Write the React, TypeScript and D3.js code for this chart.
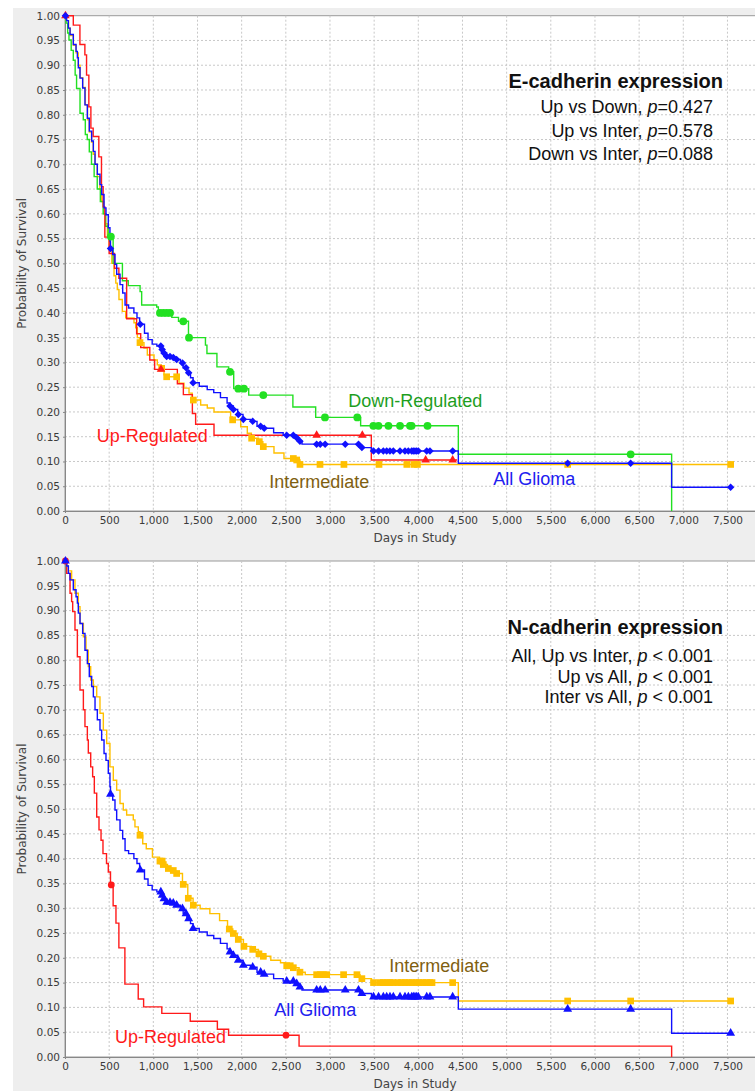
import { useEffect, useRef } from 'react';
import * as d3 from 'd3';

const W = 755;
const H = 1091;

// axis ticks
const dayTicks = [0, 500, 1000, 1500, 2000, 2500, 3000, 3500, 4000, 4500, 5000, 5500, 6000, 6500, 7000, 7500];
const survTicks = [0, 0.05, 0.1, 0.15, 0.2, 0.25, 0.3, 0.35, 0.4, 0.45, 0.5, 0.55, 0.6, 0.65, 0.7, 0.75, 0.8, 0.85, 0.9, 0.95, 1.0];

// All Glioma (shared by both panels) - [day, survival after drop]
const gliomaSteps = [
  [0, 1], [19, 0.99], [38, 0.975], [57, 0.962], [94, 0.942], [125, 0.928], [140, 0.915], [151, 0.895],
  [170, 0.874], [200, 0.854], [226, 0.82], [253, 0.793], [275, 0.767], [302, 0.747], [321, 0.726],
  [340, 0.7], [366, 0.68], [396, 0.659], [415, 0.639], [442, 0.612], [464, 0.598], [490, 0.572],
  [509, 0.545], [515, 0.53], [540, 0.518], [566, 0.498], [585, 0.478], [623, 0.457], [653, 0.44],
  [680, 0.416], [720, 0.41], [780, 0.4], [815, 0.39], [845, 0.377], [900, 0.359], [940, 0.346],
  [987, 0.337], [1040, 0.333], [1095, 0.326], [1120, 0.319], [1150, 0.312], [1190, 0.31], [1250, 0.306],
  [1307, 0.299], [1338, 0.289], [1380, 0.279], [1421, 0.269], [1450, 0.259], [1520, 0.252], [1610, 0.245],
  [1684, 0.239], [1760, 0.229], [1835, 0.218], [1868, 0.212], [1906, 0.205], [1955, 0.195], [2015, 0.185],
  [2099, 0.181], [2174, 0.171], [2240, 0.167], [2362, 0.158], [2470, 0.153], [2600, 0.148], [2645, 0.141],
  [2683, 0.135], [3340, 0.128], [3470, 0.121], [4453, 0.0965], [6868, 0.048],
];
const gliomaEnd = 7536;
const gliomaCensor = [
  5, 515, 852, 1085, 1100, 1120, 1151, 1189, 1226, 1264, 1330, 1370, 1400, 1450, 1868, 1906, 1962, 2019,
  2125, 2215, 2255, 2510, 2585, 2623, 2660, 2849, 2890, 2945, 3173, 3323, 3361, 3493, 3550, 3604, 3642,
  3679, 3717, 3793, 3849, 3887, 3925, 3943, 3962, 3981, 4000, 4095, 4132, 4389, 5691, 6404, 7536,
];

// E-cadherin: Up-Regulated
const eUpSteps = [
  [0, 1], [94, 0.981], [169, 0.942], [225, 0.921], [244, 0.88], [270, 0.816], [293, 0.773], [319, 0.756],
  [383, 0.715], [413, 0.655], [432, 0.614], [451, 0.553], [500, 0.52], [560, 0.49], [610, 0.47],
  [698, 0.388], [811, 0.358], [857, 0.33], [960, 0.305], [1015, 0.286], [1272, 0.257], [1340, 0.235],
  [1442, 0.197], [1479, 0.175], [1687, 0.153], [3468, 0.103],
];
const eUpEnd = 4440;
const eUpCensor = [5, 1087, 2849, 3366, 4083, 4389];

// E-cadherin: Down-Regulated
const eDownSteps = [
  [0, 1], [12, 0.985], [30, 0.965], [45, 0.951], [70, 0.93], [94, 0.91], [115, 0.88], [131, 0.853],
  [170, 0.803], [207, 0.79], [230, 0.76], [252, 0.75], [275, 0.725], [300, 0.7], [330, 0.675],
  [365, 0.65], [400, 0.625], [432, 0.6], [460, 0.575], [489, 0.554], [545, 0.5], [650, 0.465],
  [716, 0.455], [850, 0.443], [868, 0.416], [1038, 0.412], [1057, 0.4], [1209, 0.391], [1285, 0.383],
  [1398, 0.35], [1590, 0.335], [1607, 0.318], [1720, 0.291], [1853, 0.281], [1910, 0.247], [2080, 0.234],
  [2580, 0.21], [2838, 0.189], [3347, 0.172], [4453, 0.1145], [6868, 0],
];
const eDownEnd = 6868;
const eDownCensor = [519, 1075, 1113, 1151, 1189, 1339, 1404, 1868, 1962, 2026, 2245, 2943, 3309, 3491, 3549, 3662, 3793, 3906, 3924, 4104, 6404];

// E-cadherin: Intermediate
const eInterSteps = [
  [0, 1], [15, 0.99], [40, 0.975], [60, 0.96], [95, 0.94], [125, 0.925], [150, 0.9], [170, 0.875],
  [200, 0.855], [230, 0.82], [255, 0.79], [275, 0.765], [300, 0.745], [320, 0.72], [340, 0.7],
  [365, 0.675], [395, 0.65], [415, 0.625], [440, 0.6], [460, 0.58], [480, 0.555], [500, 0.53],
  [530, 0.5], [555, 0.475], [575, 0.46], [592, 0.447], [611, 0.427], [649, 0.403], [687, 0.39],
  [781, 0.38], [800, 0.37], [819, 0.35], [845, 0.34], [894, 0.329], [932, 0.315], [1008, 0.305],
  [1045, 0.295], [1090, 0.288], [1121, 0.275], [1140, 0.271], [1291, 0.258], [1347, 0.248], [1404, 0.238],
  [1440, 0.224], [1536, 0.214], [1611, 0.208], [1687, 0.2], [1875, 0.19], [1895, 0.184], [1989, 0.17],
  [2064, 0.157], [2110, 0.147], [2190, 0.14], [2240, 0.13], [2366, 0.117], [2479, 0.106], [2620, 0.103],
  [2660, 0.094],
];
const eInterEnd = 7536;
const eInterCensor = [849, 1094, 1151, 1264, 1453, 1898, 2113, 2200, 2245, 2585, 2623, 2660, 2887, 3158, 3555, 3870, 3950, 3990, 5691, 7536];

// N-cadherin: Up-Regulated
const nUpSteps = [
  [0, 1], [19, 0.975], [57, 0.935], [75, 0.918], [87, 0.898], [113, 0.861], [140, 0.807], [170, 0.74],
  [208, 0.7], [226, 0.666], [253, 0.639], [264, 0.613], [291, 0.585], [313, 0.565], [332, 0.532],
  [359, 0.484], [385, 0.458], [408, 0.437], [430, 0.41], [470, 0.39], [490, 0.373], [515, 0.347],
  [545, 0.305], [577, 0.27], [610, 0.22], [678, 0.147], [829, 0.117], [890, 0.101], [1096, 0.088],
  [1418, 0.072], [1725, 0.056], [1852, 0.044], [2650, 0.022], [6868, 0],
];
const nUpEnd = 6868;
const nUpCensor = [5, 524, 2502];

// N-cadherin: Intermediate
const nInterSteps = [
  [0, 1], [19, 0.99], [38, 0.98], [75, 0.962], [113, 0.935], [151, 0.908], [170, 0.874], [208, 0.847],
  [238, 0.82], [264, 0.787], [291, 0.76], [321, 0.747], [359, 0.726], [396, 0.693], [434, 0.659],
  [472, 0.632], [509, 0.585], [547, 0.558], [585, 0.538], [623, 0.511], [660, 0.498], [698, 0.488],
  [773, 0.478], [792, 0.464], [830, 0.454], [849, 0.447], [880, 0.43], [920, 0.42], [990, 0.403],
  [1070, 0.395], [1110, 0.388], [1160, 0.38], [1215, 0.376], [1250, 0.37], [1330, 0.348], [1390, 0.32],
  [1450, 0.306], [1530, 0.299], [1640, 0.289], [1750, 0.275], [1840, 0.258], [1900, 0.249], [1950, 0.237],
  [2020, 0.223], [2110, 0.217], [2190, 0.208], [2240, 0.203], [2330, 0.195], [2440, 0.19], [2500, 0.184],
  [2580, 0.18], [2650, 0.171], [2720, 0.166], [3340, 0.158], [3470, 0.15], [4453, 0.1129],
];
const nInterEnd = 7536;
const nInterCensor = [
  849, 1075, 1100, 1113, 1170, 1226, 1264, 1339, 1396, 1453, 1860, 1906, 1962, 2026, 2125, 2196, 2245,
  2510, 2550, 2585, 2660, 2849, 2890, 2925, 2962, 3154, 3305, 3361, 3493, 3566, 3604, 3642, 3679, 3713,
  3770, 3810, 3850, 3890, 3930, 3970, 4010, 4050, 4090, 4130, 4155, 4389, 5691, 6404, 7536,
];

const RED = '#ff1a1a';
const GREEN = '#22e022';
const BLUE = '#1010ff';
const GOLD = '#ffc000';

function valueAt(steps, day) {
  let v = steps[0][1];
  for (const s of steps) {
    if (s[0] <= day) v = s[1];
  }
  return v;
}

function drawPanel(root, p) {
  const g = root.append('g');
  const x = d3.scaleLinear().domain([0, 7925]).range([65, 765]);
  const y = d3.scaleLinear().domain([0, 1]).range([p.bottom, p.top]);

  // panel background
  g.append('rect')
    .attr('x', 13).attr('y', p.bgTop)
    .attr('width', W - 13).attr('height', p.bgBottom - p.bgTop)
    .attr('fill', '#eeeeee');

  g.append('rect')
    .attr('x', 65).attr('y', p.top)
    .attr('width', 700).attr('height', p.bottom - p.top)
    .attr('fill', 'white')
    .attr('stroke', '#999').attr('stroke-width', 1);

  // grid
  g.append('g').selectAll('line')
    .data(dayTicks.filter(d => d > 0))
    .enter().append('line')
    .attr('x1', d => x(d)).attr('x2', d => x(d))
    .attr('y1', p.top).attr('y2', p.bottom)
    .attr('stroke', '#c8c8c8').attr('stroke-dasharray', '2,2');

  g.append('g').selectAll('line')
    .data(survTicks.filter(d => d > 0 && d < 1))
    .enter().append('line')
    .attr('x1', 65).attr('x2', 765)
    .attr('y1', d => y(d)).attr('y2', d => y(d))
    .attr('stroke', '#c8c8c8').attr('stroke-dasharray', '2,2');

  // axes
  const yAxis = g.append('g')
    .attr('transform', 'translate(65,0)')
    .call(d3.axisLeft(y).tickValues(survTicks).tickFormat(d3.format('.2f')).tickSize(2).tickSizeOuter(0).tickPadding(3));
  const xAxis = g.append('g')
    .attr('transform', `translate(0,${p.bottom})`)
    .call(d3.axisBottom(x).tickValues(dayTicks).tickFormat(d3.format(',')).tickSize(2).tickSizeOuter(0).tickPadding(4));
  [yAxis, xAxis].forEach(a => {
    a.select('.domain').attr('stroke', '#888');
    a.selectAll('.tick line').attr('stroke', '#888');
    a.selectAll('text')
      .attr('fill', '#3a3a3a')
      .style('font-family', '"DejaVu Sans", sans-serif')
      .style('font-size', '10.5px');
  });

  g.append('text')
    .attr('x', 415).attr('y', p.bottom + 31)
    .attr('text-anchor', 'middle')
    .attr('fill', '#444')
    .style('font-family', '"DejaVu Sans", sans-serif')
    .style('font-size', '12px')
    .text('Days in Study');

  g.append('text')
    .attr('transform', `translate(22,${(p.top + p.bottom) / 2}) rotate(-90)`)
    .attr('text-anchor', 'middle')
    .attr('dominant-baseline', 'central')
    .attr('fill', '#444')
    .style('font-family', '"DejaVu Sans", sans-serif')
    .style('font-size', '12px')
    .text('Probability of Survival');

  // curves
  const line = d3.line()
    .x(d => x(d[0]))
    .y(d => y(d[1]))
    .curve(d3.curveStepAfter);

  p.series.forEach(s => {
    const pts = [...s.steps, [s.end, s.steps[s.steps.length - 1][1]]];
    g.append('path')
      .datum(pts)
      .attr('fill', 'none')
      .attr('stroke', s.color)
      .attr('stroke-width', 1.4)
      .attr('d', line);
  });

  p.series.forEach(s => {
    const sym = d3.symbol().type(s.symbol).size(s.size);
    g.append('g').selectAll('path')
      .data(s.censor)
      .enter().append('path')
      .attr('transform', d => `translate(${x(d)},${y(valueAt(s.steps, d))})`)
      .attr('d', sym)
      .attr('fill', s.color);
  });

  // annotations
  const ann = g.append('g')
    .attr('text-anchor', 'end')
    .style('font-family', '"Liberation Sans", Arial, sans-serif')
    .attr('fill', '#111');
  ann.append('text')
    .attr('x', 723).attr('y', p.titleY)
    .style('font-size', '20px').style('font-weight', 'bold')
    .text(p.title);
  p.stats.forEach((st, i) => {
    const t = ann.append('text')
      .attr('x', 713).attr('y', p.statY[i])
      .style('font-size', '18px');
    t.append('tspan').text(st[0]);
    t.append('tspan').style('font-style', 'italic').text('p');
    t.append('tspan').text(st[1]);
  });

  p.labels.forEach(l => {
    g.append('text')
      .attr('x', l.x).attr('y', l.y)
      .attr('fill', l.color)
      .style('font-family', '"Liberation Sans", Arial, sans-serif')
      .style('font-size', '18px')
      .text(l.text);
  });
}

export default function App() {
  const svgRef = useRef(null);

  useEffect(() => {
    const svg = d3.select(svgRef.current);
    svg.selectAll('*').remove();

    drawPanel(svg, {
      bgTop: 8, bgBottom: 550, top: 15.7, bottom: 511,
      title: 'E-cadherin expression', titleY: 88,
      stats: [['Up vs Down, ', '=0.427'], ['Up vs Inter, ', '=0.578'], ['Down vs Inter, ', '=0.088']],
      statY: [113, 136.5, 159.5],
      series: [
        { steps: eInterSteps, end: eInterEnd, censor: eInterCensor, color: GOLD, symbol: d3.symbolSquare, size: 45 },
        { steps: eDownSteps, end: eDownEnd, censor: eDownCensor, color: GREEN, symbol: d3.symbolCircle, size: 48 },
        { steps: eUpSteps, end: eUpEnd, censor: eUpCensor, color: RED, symbol: d3.symbolTriangle, size: 32 },
        { steps: gliomaSteps, end: gliomaEnd, censor: gliomaCensor, color: BLUE, symbol: d3.symbolDiamond2, size: 36 },
      ],
      labels: [
        { text: 'Up-Regulated', x: 96.7, y: 441.5, color: '#ff1a1a' },
        { text: 'Intermediate', x: 269.3, y: 488, color: '#7f5f10' },
        { text: 'Down-Regulated', x: 348.3, y: 406.7, color: '#1e9e1e' },
        { text: 'All Glioma', x: 493.3, y: 485, color: '#2020f0' },
      ],
    });

    drawPanel(svg, {
      bgTop: 550, bgBottom: H, top: 561, bottom: 1057,
      title: 'N-cadherin expression', titleY: 634,
      stats: [['All, Up vs Inter, ', ' < 0.001'], ['Up vs All, ', ' < 0.001'], ['Inter vs All, ', ' < 0.001']],
      statY: [661.7, 682.7, 703.3],
      series: [
        { steps: nUpSteps, end: nUpEnd, censor: nUpCensor, color: RED, symbol: d3.symbolCircle, size: 36 },
        { steps: nInterSteps, end: nInterEnd, censor: nInterCensor, color: GOLD, symbol: d3.symbolSquare, size: 45 },
        { steps: gliomaSteps, end: gliomaEnd, censor: gliomaCensor, color: BLUE, symbol: d3.symbolTriangle, size: 34 },
      ],
      labels: [
        { text: 'Intermediate', x: 389.3, y: 972, color: '#7f5f10' },
        { text: 'All Glioma', x: 274.3, y: 1015.7, color: '#2020f0' },
        { text: 'Up-Regulated', x: 115, y: 1043, color: '#ff1a1a' },
      ],
    });
  }, []);

  return (
    <svg
      ref={svgRef}
      width={W}
      height={H}
      style={{ position: 'absolute', left: 0, top: 0, background: 'white' }}
    />
  );
}
